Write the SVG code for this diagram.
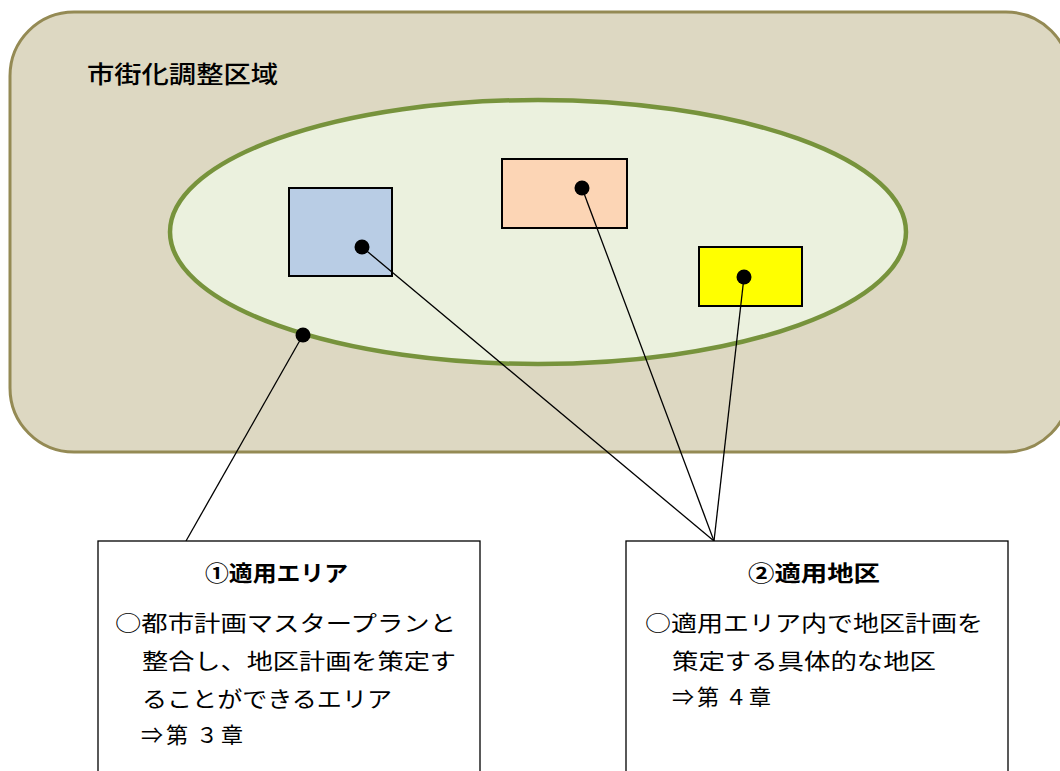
<svg xmlns="http://www.w3.org/2000/svg" width="1060" height="771" viewBox="0 0 1060 771">
  <defs>
    <style>
      .jp { font-family: "Noto Sans CJK JP", "Noto Sans", sans-serif; fill: #000; }
      .body { font-size: 22px; }
      .title { font-size: 22px; font-weight: bold; }
      .area { fill: #FFFFFF; stroke: #000; stroke-width: 1.3; }
      .zone { stroke: #000; stroke-width: 2; }
      .dot { fill: #000; }
      .conn { stroke: #000; stroke-width: 1.3; fill: none; }
    </style>
  </defs>
  <rect width="1060" height="771" fill="#FFFFFF"/>

  <g id="urbanization-control-area">
    <rect x="10" y="12" width="1060" height="440" rx="64" ry="64" fill="#DDD8C2" stroke="#948A54" stroke-width="3"/>
    <text class="jp" x="87" y="83" font-size="24" font-weight="500" textLength="191" lengthAdjust="spacingAndGlyphs">市街化調整区域</text>
  </g>

  <g id="applicable-area-ellipse">
    <ellipse cx="538" cy="232" rx="368" ry="132" fill="#EBF1DE" stroke="#77933C" stroke-width="4.5"/>
  </g>

  <g id="district-blue">
    <rect class="zone" x="289" y="188" width="103" height="88" fill="#B9CDE5"/>
  </g>
  <g id="district-orange">
    <rect class="zone" x="502" y="159" width="125" height="69" fill="#FCD5B5"/>
  </g>
  <g id="district-yellow">
    <rect class="zone" x="699" y="247" width="103" height="59" fill="#FFFF00"/>
  </g>

  <g id="connectors">
    <line class="conn" x1="303" y1="335" x2="186" y2="541"/>
    <line class="conn" x1="362" y1="247" x2="714" y2="541"/>
    <line class="conn" x1="582" y1="188" x2="714" y2="541"/>
    <line class="conn" x1="744" y1="277" x2="714" y2="541"/>
    <circle class="dot" cx="303" cy="335" r="7.5"/>
    <circle class="dot" cx="362" cy="247" r="7.5"/>
    <circle class="dot" cx="582" cy="188" r="7.5"/>
    <circle class="dot" cx="744" cy="277" r="7.5"/>
  </g>

  <g id="box-applicable-area">
    <rect class="area" x="98" y="541" width="382" height="250"/>
    <text class="jp title" x="205" y="581" textLength="143" lengthAdjust="spacingAndGlyphs">①適用エリア</text>
    <text class="jp body" x="115" y="631" textLength="341" lengthAdjust="spacingAndGlyphs">○都市計画マスタープランと</text>
    <text class="jp body" x="142" y="669" textLength="314" lengthAdjust="spacingAndGlyphs">整合し、地区計画を策定す</text>
    <text class="jp body" x="142" y="707" textLength="250" lengthAdjust="spacingAndGlyphs">ることができるエリア</text>
    <text class="jp body" x="141 166 196 221" y="743">⇒第３章</text>
  </g>

  <g id="box-applicable-district">
    <rect class="area" x="626" y="541" width="382" height="250"/>
    <text class="jp title" x="748" y="581" textLength="132" lengthAdjust="spacingAndGlyphs">②適用地区</text>
    <text class="jp body" x="645" y="631" textLength="338" lengthAdjust="spacingAndGlyphs">○適用エリア内で地区計画を</text>
    <text class="jp body" x="672" y="669" textLength="264" lengthAdjust="spacingAndGlyphs">策定する具体的な地区</text>
    <text class="jp body" x="672 697 725 749" y="705">⇒第４章</text>
  </g>
</svg>
